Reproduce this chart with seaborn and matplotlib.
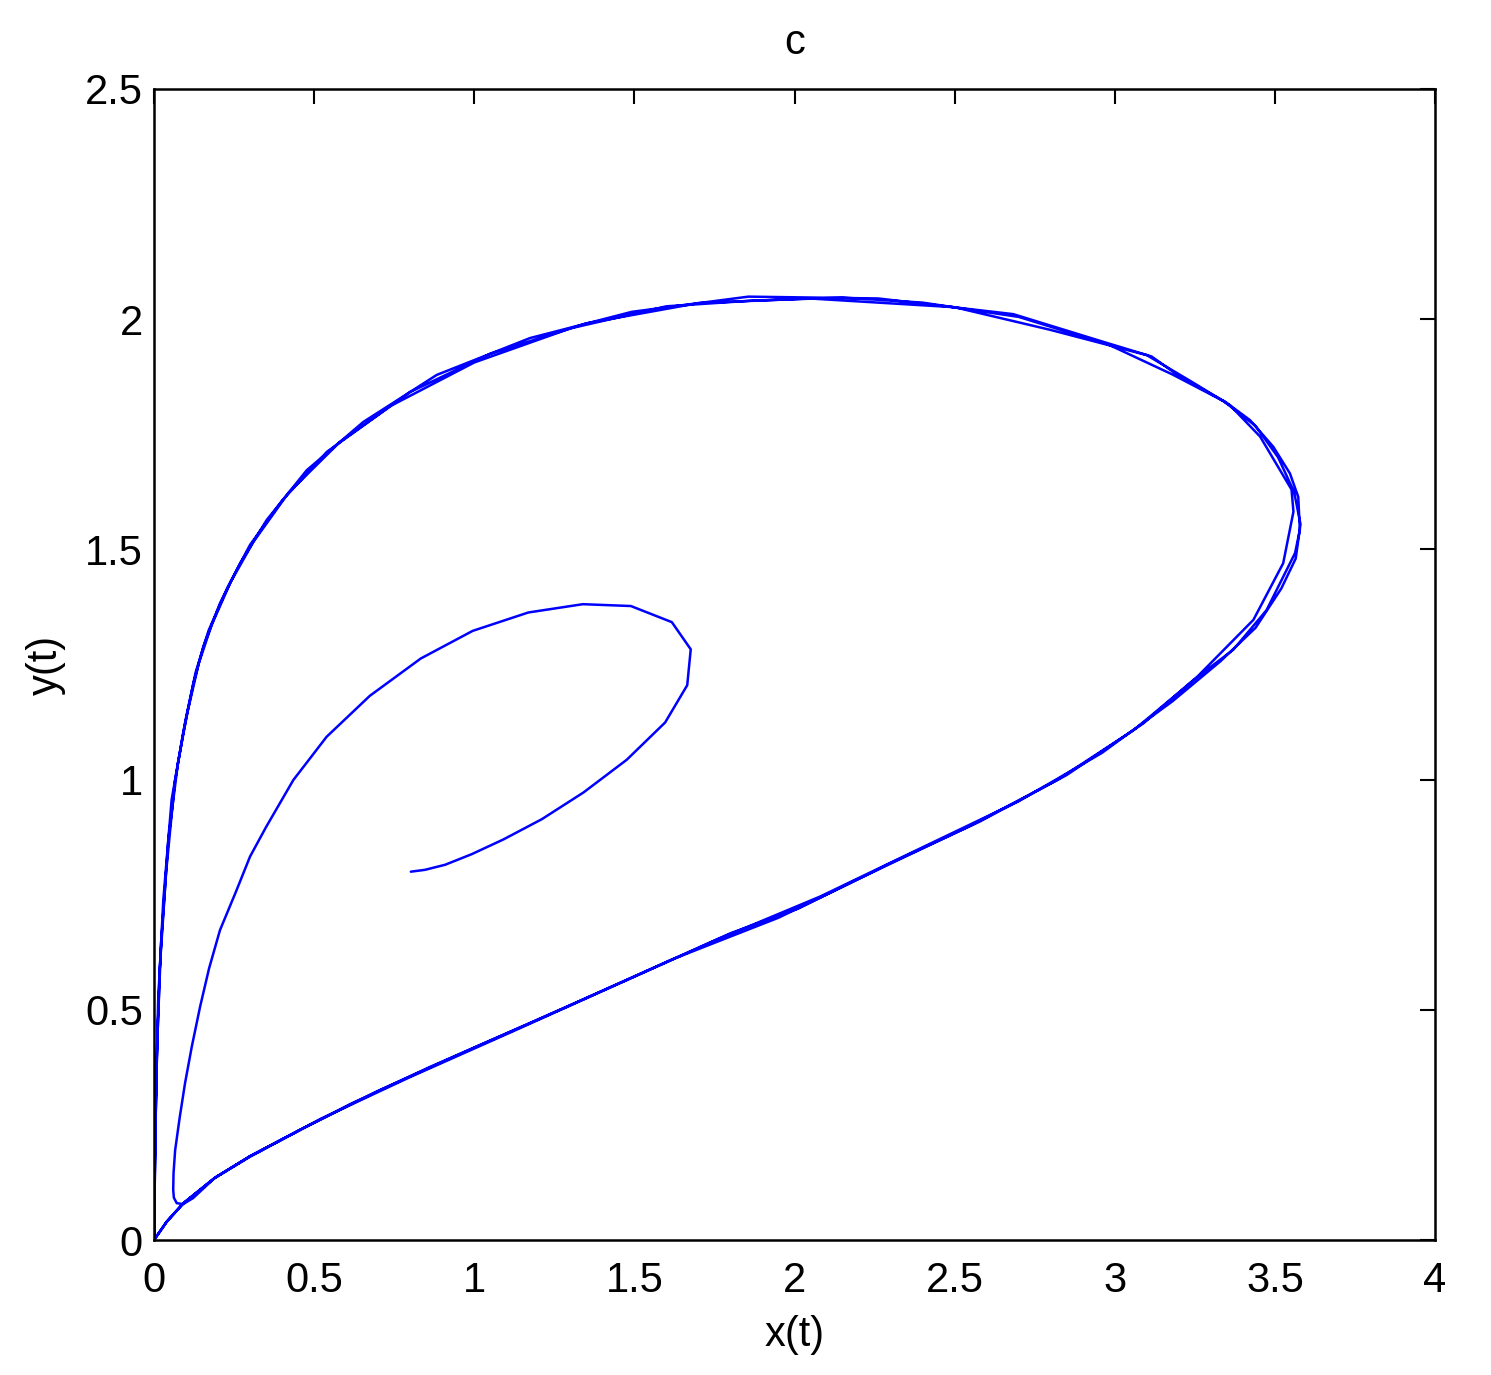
import numpy as np
import pandas as pd
import matplotlib
matplotlib.use("Agg")
import matplotlib.pyplot as plt
import seaborn as sns

# transient spiral from the initial point (0.8, 0.8)
trans_x = [0.802, 0.846, 0.909, 0.992, 1.091, 1.211, 1.341, 1.476, 1.596, 1.665, 1.676, 1.617, 1.489,
           1.339, 1.169, 0.995, 0.833, 0.674, 0.539, 0.435, 0.399, 0.350, 0.300, 0.255, 0.206, 0.172,
           0.144, 0.118, 0.097, 0.080, 0.066, 0.061, 0.060, 0.062, 0.071, 0.091, 0.122]
trans_y = [0.800, 0.804, 0.815, 0.838, 0.870, 0.914, 0.972, 1.043, 1.124, 1.205, 1.283, 1.342, 1.377,
           1.381, 1.363, 1.323, 1.263, 1.182, 1.093, 0.999, 0.956, 0.897, 0.833, 0.755, 0.673, 0.590,
           0.507, 0.420, 0.341, 0.265, 0.195, 0.145, 0.109, 0.092, 0.080, 0.078, 0.091]

# limit cycle, pass 1
cyc1_x = [0.190, 0.300, 0.456, 0.612, 0.862, 1.174, 1.486, 1.799, 2.012, 2.319, 2.579, 2.850, 3.089,
          3.245, 3.370, 3.474, 3.563, 3.578, 3.573, 3.547, 3.495, 3.422, 3.344, 3.204, 3.115, 2.954,
          2.683, 2.262, 1.856, 1.492, 1.174, 0.883, 0.654, 0.477, 0.352, 0.269, 0.206, 0.154, 0.123,
          0.091, 0.055, 0.029, 0.013, 0.006, 0.002, 0.000]
cyc1_y = [0.135, 0.181, 0.239, 0.295, 0.376, 0.471, 0.568, 0.666, 0.720, 0.825, 0.909, 1.010, 1.122,
          1.216, 1.282, 1.368, 1.492, 1.542, 1.614, 1.665, 1.723, 1.781, 1.821, 1.875, 1.919, 1.953,
          2.011, 2.045, 2.049, 2.016, 1.959, 1.879, 1.777, 1.672, 1.564, 1.470, 1.383, 1.289, 1.209,
          1.101, 0.956, 0.738, 0.521, 0.304, 0.100, 0.000]

# limit cycle, pass 2
cyc2_x = [0.040, 0.092, 0.190, 0.300, 0.450, 0.700, 1.000, 1.300, 1.620, 1.950, 2.250, 2.550, 2.820,
          3.060, 3.250, 3.433, 3.526, 3.558, 3.552, 3.454, 3.360, 3.250, 3.100, 2.798, 2.500, 2.048,
          1.700, 1.350, 1.050, 0.800, 0.580, 0.420, 0.310, 0.240, 0.180, 0.140, 0.105, 0.075, 0.045,
          0.022, 0.010, 0.004, 0.000]
cyc2_y = [0.040, 0.080, 0.135, 0.182, 0.237, 0.324, 0.418, 0.510, 0.610, 0.700, 0.801, 0.900, 0.999,
          1.108, 1.218, 1.347, 1.470, 1.582, 1.630, 1.745, 1.813, 1.860, 1.922, 1.977, 2.026, 2.045,
          2.035, 1.991, 1.925, 1.842, 1.733, 1.623, 1.516, 1.430, 1.336, 1.253, 1.148, 1.037, 0.872,
          0.643, 0.430, 0.220, 0.000]

# limit cycle, pass 3
cyc3_x = [0.040, 0.092, 0.190, 0.300, 0.520, 0.800, 1.120, 1.420, 1.750, 2.080, 2.400, 2.700, 2.960,
          3.180, 3.330, 3.440, 3.520, 3.565, 3.580, 3.560, 3.510, 3.440, 3.340, 3.180, 2.980, 2.700,
          2.400, 2.150, 1.860, 1.600, 1.300, 1.000, 0.740, 0.540, 0.400, 0.300, 0.230, 0.170, 0.130,
          0.098, 0.065, 0.038, 0.018, 0.008, 0.003, 0.000]
cyc3_y = [0.040, 0.080, 0.135, 0.182, 0.263, 0.354, 0.453, 0.547, 0.650, 0.746, 0.853, 0.953, 1.058,
          1.170, 1.257, 1.330, 1.415, 1.480, 1.555, 1.625, 1.700, 1.768, 1.822, 1.880, 1.945, 2.005,
          2.036, 2.047, 2.040, 2.028, 1.980, 1.906, 1.812, 1.712, 1.606, 1.510, 1.418, 1.323, 1.233,
          1.128, 0.995, 0.800, 0.590, 0.380, 0.180, 0.000]

# closing segment along the lower branch
tail_x = [0.040, 0.092, 0.190, 0.300, 0.456]
tail_y = [0.040, 0.080, 0.135, 0.182, 0.239]

x_ticks = [0, 0.5, 1, 1.5, 2, 2.5, 3, 3.5, 4]
x_tick_labels = ["0", "0.5", "1", "1.5", "2", "2.5", "3", "3.5", "4"]
y_ticks = [0, 0.5, 1, 1.5, 2, 2.5]
y_tick_labels = ["0", "0.5", "1", "1.5", "2", "2.5"]

xs = trans_x + cyc1_x + cyc2_x + cyc3_x + tail_x
ys = trans_y + cyc1_y + cyc2_y + cyc3_y + tail_y
df = pd.DataFrame({"x": xs, "y": ys})

sns.set_theme(style="white")
plt.rcParams["font.family"] = ["Liberation Sans", "DejaVu Sans"]
plt.rcParams["text.color"] = "black"
plt.rcParams["axes.labelcolor"] = "black"

fig = plt.figure(figsize=(14.91, 13.75), dpi=100)
ax = fig.add_axes([154 / 1491, 1 - 1240 / 1375, (1435 - 154) / 1491, (1240 - 89) / 1375])

sns.lineplot(data=df, x="x", y="y", sort=False, estimator=None, color=(0, 0, 1),
             linewidth=1.8, ax=ax)

ax.set_xlim(0, 4)
ax.set_ylim(0, 2.5)
ax.set_xticks(x_ticks)
ax.set_xticklabels(x_tick_labels)
ax.set_yticks(y_ticks)
ax.set_yticklabels(y_tick_labels)
ax.tick_params(direction="in", top=True, right=True, length=11, width=1.5,
               labelsize=30, colors="black")
ax.tick_params(axis="x", pad=15)
ax.tick_params(axis="y", pad=8)
for s in ax.spines.values():
    s.set_visible(True)
    s.set_color("black")
    s.set_linewidth(1.8)

ax.set_xlabel("x(t)", fontsize=30, labelpad=10)
ax.set_ylabel("y(t)", fontsize=30, labelpad=14)
ax.set_title("c", fontsize=30, pad=25)

fig.savefig("out.png", dpi=100, facecolor="white")
